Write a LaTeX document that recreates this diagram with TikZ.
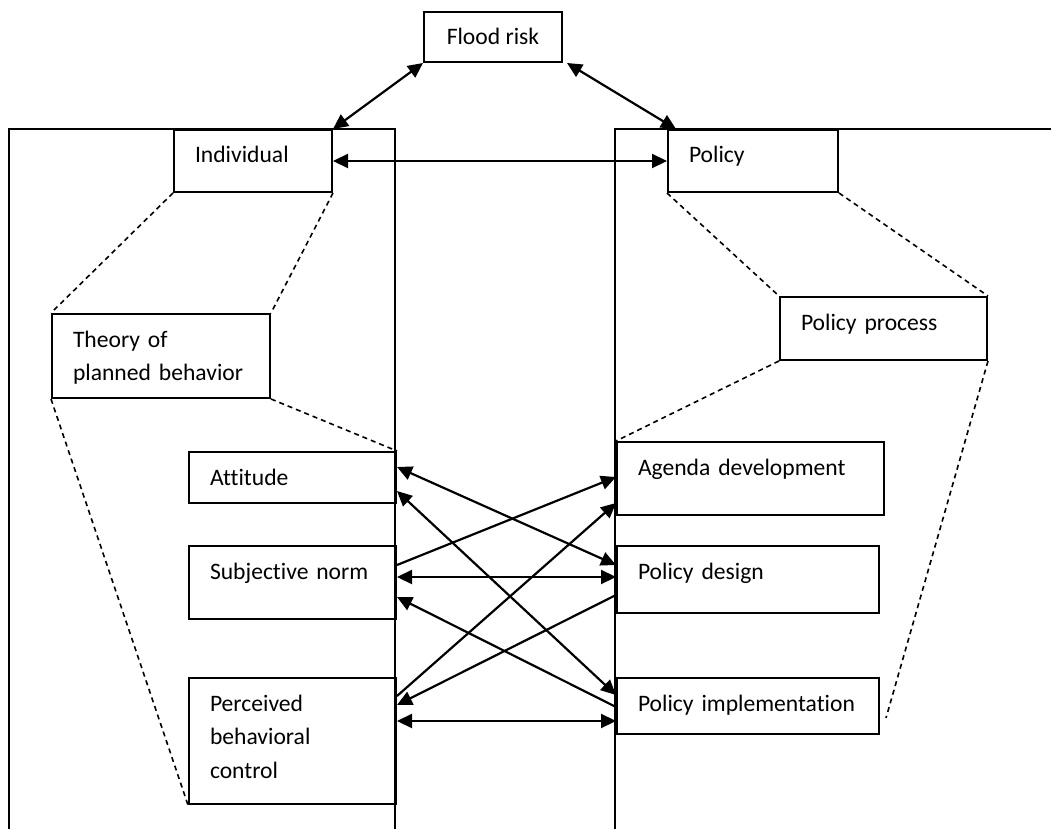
\documentclass[tikz,border=0pt]{standalone}
\usepackage{fontspec}
\setmainfont{Carlito}[Ligatures=CommonOff]
\usetikzlibrary{arrows.meta}

\begin{document}
\begin{tikzpicture}[x=0.5pt,y=-0.5pt,
    box/.style={draw, line width=1pt, anchor=north west, align=left,
      inner xsep=10.5pt, inner ysep=0pt, text height=16.5pt,
      font=\fontsize{11.8}{16.75}\selectfont},
    both/.style={{Triangle[length=7.5pt,width=7pt]}-{Triangle[length=7.5pt,width=7pt]}, line width=1.1pt},
    one/.style={-{Triangle[length=7.5pt,width=7pt]}, line width=1.1pt},
    zoomline/.style={dash pattern=on 2.5pt off 2pt, line width=0.8pt}]
  \useasboundingbox (0,0) rectangle (1051,829);

  % the two columns
  \draw[line width=0.9pt] (9,829) -- (9,129) -- (395,129) -- (395,829);
  \draw[line width=0.9pt] (615,829) -- (615,129) -- (1051,129);

  \node[box, align=center, minimum width=69pt, text depth=8.5pt] (flood) at (423,11) {Flood risk};
  \node[box, text width=58pt, text depth=14.5pt] (indiv) at (173,129) {Individual};
  \node[box, text width=64pt, text depth=14.5pt] (policy) at (667,129) {Policy};

  % individual side
  \node[box, text width=88pt, text depth=25.5pt] (tpb) at (51,313) {Theory of\\planned behavior};
  \node[box, text width=82.5pt, text depth=9pt] (att) at (188,451) {Attitude};
  \node[box, text width=82.5pt, text depth=20pt] (norm) at (188,545) {Subjective norm};
  \node[box, text width=82.5pt, text depth=46.5pt] (pbc) at (188,677) {Perceived\\behavioral\\control};

  % policy side
  \node[box, text width=82.5pt, text depth=15pt] (process) at (779,296) {Policy process};
  \node[box, text width=112.5pt, text depth=20pt] (agenda) at (616,441) {Agenda development};
  \node[box, text width=110pt, text depth=17pt] (design) at (616,545) {Policy design};
  \node[box, text width=110pt, text depth=11.5pt] (impl) at (616,677) {Policy implementation};

  \draw[both] (flood.south west) -- (indiv.north east);
  \draw[both] ([xshift=2pt]flood.south east) -- ([xshift=4.5pt]policy.north west);
  \draw[both] (indiv.east) -- (policy.west);

  \draw[zoomline] (indiv.south west) -- (tpb.north west);
  \draw[zoomline] (indiv.south east) -- (tpb.north east);
  \draw[zoomline] (tpb.south west) -- (pbc.south west);
  \draw[zoomline] (tpb.south east) -- (att.north east);
  \draw[zoomline] (policy.south west) -- (process.north west);
  \draw[zoomline] (policy.south east) -- (process.north east);
  \draw[zoomline] (process.south west) -- (agenda.north west);
  \draw[zoomline] (process.south east) -- ([xshift=3pt,yshift=-6pt]impl.east);

  % links between the two sides
  \draw[both] ([yshift=-8pt]att.north east) -- ([yshift=-10pt]design.north west);
  \draw[both] ([yshift=-20pt]att.north east) -- ([yshift=-9pt]impl.north west);
  \draw[one] ([yshift=-10pt]norm.north east) -- ([yshift=-18pt]agenda.north west);
  \draw[both] ([yshift=-16pt]norm.north east) -- ([yshift=-16pt]design.north west);
  \draw[one] ([yshift=-15pt]impl.north west) -- ([yshift=-26pt]norm.north east);
  \draw[one] ([yshift=-9.5pt]pbc.north east) -- ([yshift=-31pt]agenda.north west);
  \draw[one] ([yshift=-25pt]design.north west) -- ([yshift=-14pt]pbc.north east);
  \draw[both] ([yshift=-22pt]pbc.north east) -- ([yshift=-22pt]impl.north west);
\end{tikzpicture}
\end{document}
